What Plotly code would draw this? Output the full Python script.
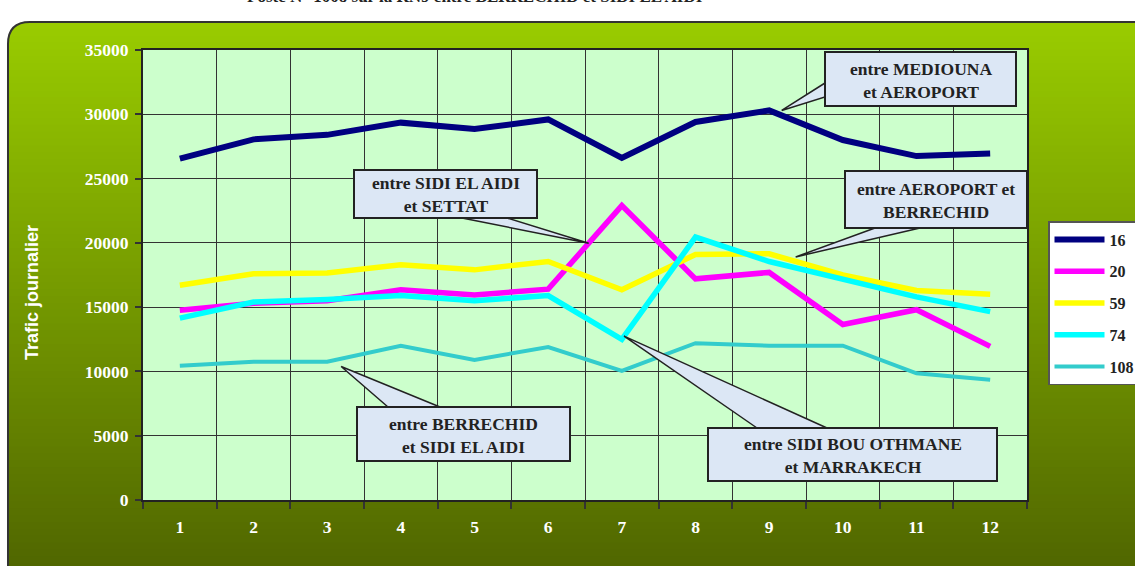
import plotly.graph_objects as go

# ---------------- data ----------------
months = list(range(1, 13))
tick_labels = [str(m) for m in months]
series_names = ["16", "20", "59", "74", "108"]
s16 = [26550, 28050, 28400, 29350, 28850, 29600, 26600, 29400, 30300, 28000, 26750, 26950]
s20 = [14750, 15300, 15500, 16350, 15950, 16400, 22900, 17200, 17700, 13650, 14800, 11950]
s59 = [16700, 17600, 17650, 18300, 17900, 18550, 16350, 19100, 19150, 17500, 16300, 16000]
s74 = [14150, 15400, 15600, 15900, 15500, 15900, 12500, 20450, 18550, 17150, 15800, 14650]
s108 = [10450, 10750, 10750, 12000, 10900, 11900, 10050, 12200, 12000, 12000, 9850, 9350]
series_values = [s16, s20, s59, s74, s108]
y_title = "Trafic journalier"
page_title = "Poste N° 1008 sur la RN9 entre BERRECHID et SIDI EL AIDI"

# ---------------- styles ----------------
line_colors = ["#000080", "#ff00ff", "#ffff00", "#00ffff", "#33cccc"]
line_widths = [6, 5.5, 5.5, 5.5, 4]
W, H = 1135, 566
L, R, T, B = 143, 1027, 50, 500
YMAX = 35000
SERIF = "Liberation Serif, Times New Roman, serif"
SANS = "Liberation Sans, Arial, sans-serif"
CALLOUT_FILL = "#dce7f5"
DARK = "#222222"


def px(x):
    return (x - L) / (R - L)


def py(y):
    return (B - y) / (B - T)


def dx(v):
    return (v - 0.5) / 12


def dy(v):
    return v / YMAX


def seg(series, i, t):
    """point on segment from category i to i+1 (1-based)"""
    a, b = series[i - 1], series[i]
    return i + t, a + t * (b - a)


fig = go.Figure()
for name, vals, c, w in zip(series_names, series_values, line_colors, line_widths):
    fig.add_trace(go.Scatter(
        x=months, y=vals, mode="lines", name=name, legendgroup=name,
        line=dict(color=c, width=w), hoverinfo="x+y+name",
    ))

shapes = []
# gradient background (stripes)
top_c = (153, 204, 0)
bot_c = (80, 102, 0)
n = 80
y_start, y_end = 22, 570
step = (y_end - y_start) / n
for i in range(n):
    ya = y_start + i * step
    yb = ya + step + 0.8
    t = (i + 0.5) / n
    col = "rgb(%d,%d,%d)" % tuple(round(a + (b - a) * t) for a, b in zip(top_c, bot_c))
    shapes.append(dict(type="rect", xref="paper", yref="paper", layer="below",
                       x0=px(8), x1=px(1140), y0=py(yb), y1=py(ya),
                       fillcolor=col, line=dict(width=0)))
# rounded corner mask
r = 22
shapes.append(dict(type="path", xref="paper", yref="paper", layer="below",
                   path="M%f,%f L%f,%f Q%f,%f %f,%f Z" % (
                       px(7), py(21), px(8 + r), py(21), px(8), py(22), px(7), py(22 + r)),
                   fillcolor="white", line=dict(width=0)))
# outer border
shapes.append(dict(type="path", xref="paper", yref="paper", layer="below",
                   path="M%f,%f L%f,%f Q%f,%f %f,%f L%f,%f" % (
                       px(1140), py(22), px(8 + r), py(22), px(8), py(22), px(8), py(22 + r), px(8), py(570)),
                   line=dict(color="#333333", width=2)))
# plot area background
shapes.append(dict(type="rect", xref="paper", yref="paper", layer="below",
                   x0=0, x1=1, y0=0, y1=1, fillcolor="#ccffcc", line=dict(width=0)))

annotations = []

# callouts: (text, box px (x0,y0,x1,y1), base points px, tip in data coords)
tip1 = (9.17, s16[8])
tip2 = seg(s20, 6, 0.55)
t3x, t3y = seg(s59, 9, 0.36)
tip3 = (t3x, t3y + 350)
t4x, t4y = seg(s108, 3, 0.19)
tip4 = (t4x, t4y - 600)
tip5 = (7.03, s74[6] + 250)
callouts = [
    ("entre MEDIOUNA<br>et AEROPORT", (825, 52, 1016, 106), ((825, 83), (825, 97)), tip1),
    ("entre SIDI EL AIDI<br>et SETTAT", (354, 170, 537, 218), ((462, 218), (507, 218)), tip2),
    ("entre AEROPORT et<br>BERRECHID", (845, 171, 1027, 228), ((875, 228), (920, 228)), tip3),
    ("entre BERRECHID<br>et SIDI EL AIDI", (357, 407, 570, 461), ((388, 407), (440, 407)), tip4),
    ("entre SIDI BOU OTHMANE<br>et MARRAKECH", (708, 428, 997, 481), ((757, 428), (827, 428)), tip5),
]
for text, (bx0, by0, bx1, by1), (p1, p2), tip in callouts:
    shapes.append(dict(type="path", xref="paper", yref="paper", layer="above",
                       path="M%f,%f L%f,%f L%f,%f Z" % (
                           px(p1[0]), py(p1[1]), dx(tip[0]), dy(tip[1]), px(p2[0]), py(p2[1])),
                       fillcolor=CALLOUT_FILL, line=dict(color=DARK, width=1.5)))
    shapes.append(dict(type="rect", xref="paper", yref="paper", layer="above",
                       x0=px(bx0), x1=px(bx1), y0=py(by1), y1=py(by0),
                       fillcolor=CALLOUT_FILL, line=dict(color=DARK, width=2)))
    annotations.append(dict(text=text, xref="paper", yref="paper",
                            x=px((bx0 + bx1) / 2), y=py((by0 + by1) / 2 + 1),
                            showarrow=False, xanchor="center", yanchor="middle",
                            font=dict(family=SERIF, size=17.5, color=DARK, weight="bold")))

annotations.append(dict(text=y_title, xref="paper", yref="paper", x=px(31.5), y=py(292.5),
                        textangle=-90, showarrow=False, xanchor="center", yanchor="middle",
                        font=dict(family=SANS, size=18, color="white", weight="bold")))
annotations.append(dict(text=page_title, xref="paper", yref="paper", x=px(475), y=py(8),
                        showarrow=False, xanchor="center", yanchor="bottom",
                        font=dict(family=SERIF, size=17, color=DARK, weight="bold")))

fig.update_layout(
    width=W, height=H,
    margin=dict(l=L, r=W - R, t=T, b=H - B, pad=0, autoexpand=False),
    paper_bgcolor="white", plot_bgcolor="rgba(0,0,0,0)",
    shapes=shapes, annotations=annotations,
    showlegend=True,
    legend=dict(x=px(1048), y=py(221), xanchor="left", yanchor="top",
                bgcolor="white", bordercolor="#555555", borderwidth=1.5,
                font=dict(family=SERIF, size=16, color=DARK, weight="bold"),
                tracegroupgap=8, itemwidth=50, traceorder="grouped"),
    xaxis=dict(range=[0.5, 12.5], tickmode="array", tickvals=months, ticktext=tick_labels,
               ticks="", showgrid=False, zeroline=False,
               minor=dict(tickmode="linear", tick0=0.5, dtick=1, showgrid=True,
                          gridcolor="#333333", gridwidth=1, ticks="outside", ticklen=7,
                          tickcolor="#333333", tickwidth=1.5),
               showline=True, mirror=True, linecolor=DARK, linewidth=2,
               tickfont=dict(family=SERIF, size=17.5, color="white", weight="bold"),
               ticklabelstandoff=10, fixedrange=True),
    yaxis=dict(range=[0, YMAX], dtick=5000, tickformat="d", ticks="outside", ticklen=6,
               tickcolor="#333333", tickwidth=1.5, showgrid=True, gridcolor="#333333",
               gridwidth=1, zeroline=False, showline=True, mirror=True, linecolor=DARK,
               linewidth=2, tickfont=dict(family=SERIF, size=17.5, color="white", weight="bold"),
               ticklabelstandoff=3, fixedrange=True),
)

fig.write_html("out.html", config={"displayModeBar": False},
               post_script="document.body.style.margin='0';document.body.style.overflow='hidden';")
